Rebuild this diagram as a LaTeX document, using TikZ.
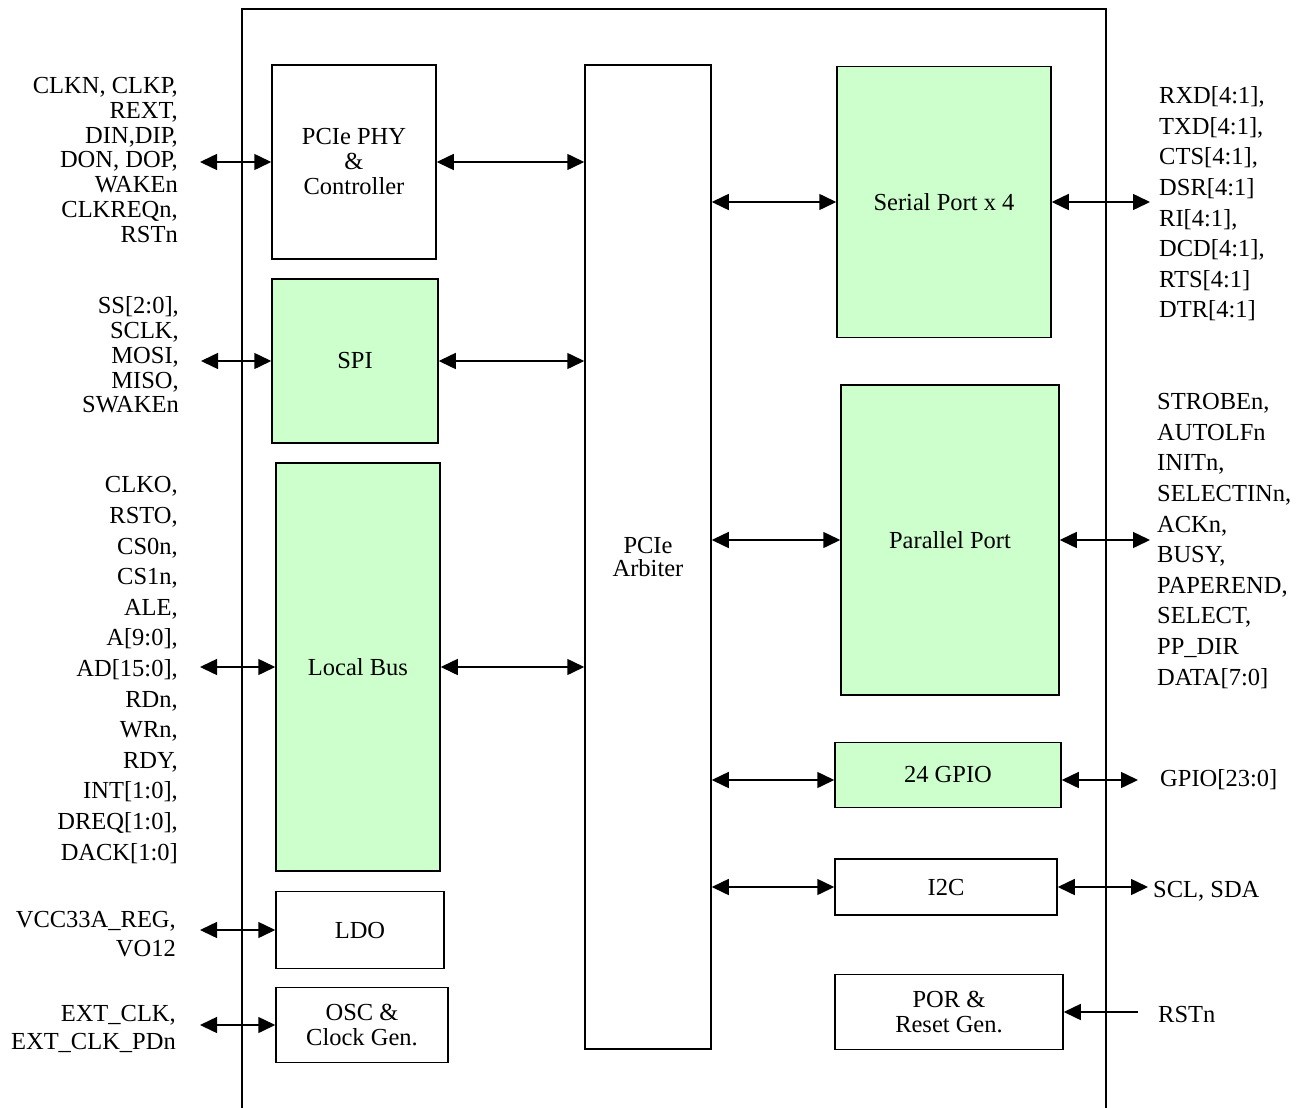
\documentclass[tikz,border=0pt]{standalone}
\usepackage{fontspec}
\setmainfont{Liberation Serif}
\usetikzlibrary{arrows.meta}

\definecolor{blockgreen}{RGB}{204,255,204}

\begin{document}
\begin{tikzpicture}[x=1pt,y=-1pt,
  blk/.style={draw,line width=1.5pt,inner sep=0pt,align=center,font=\fontsize{24.5}{25}\selectfont},
  gblk/.style={blk,fill=blockgreen},
  sig/.style={inner sep=0pt,font=\fontsize{24.5}{24.8}\selectfont},
  sigwide/.style={sig,font=\fontsize{24.5}{30.6}\selectfont},
  bus/.style={line width=1.5pt,{Triangle[length=17pt,width=16pt]}-{Triangle[length=17pt,width=16pt]}},
  inbus/.style={line width=1.5pt,-{Triangle[length=17pt,width=16pt]}}]
  \path[use as bounding box,fill=white] (0,0) rectangle (1301,1108);
  % chip outline, open at the bottom
  \draw[line width=1.5pt] (242,1108) -- (242,9) -- (1106,9) -- (1106,1108);

  % blocks
  \node[blk,minimum width=164,minimum height=194] (phy) at (354,162) {PCIe PHY\\\&\\Controller};
  \node[gblk,minimum width=166,minimum height=164] (spi) at (355,361) {SPI};
  \node[gblk,minimum width=164,minimum height=408] (lbus) at (358,667) {Local Bus};
  \node[blk,minimum width=168,minimum height=77] (ldo) at (360,930) {LDO};
  \node[blk,minimum width=172,minimum height=75] (osc) at (362,1025) {OSC \&\\Clock Gen.};
  \node[blk,minimum width=126,minimum height=984,font=\fontsize{24.5}{23}\selectfont] (arb) at (648,557) {PCIe\\Arbiter};
  \node[gblk,minimum width=214,minimum height=271] (ser) at (944,202) {Serial Port x 4};
  \node[gblk,minimum width=218,minimum height=310] (par) at (950,540) {Parallel Port};
  \node[gblk,minimum width=226,minimum height=65] (gpio) at (948,775) {24 GPIO};
  \node[blk,minimum width=222,minimum height=56] (iic) at (946,887) {I2C};
  \node[blk,minimum width=228,minimum height=75] (por) at (949,1012) {POR \&\\Reset Gen.};

  % pin names
  \node[sig,anchor=east,align=right] (lphy) at (178,160) {CLKN, CLKP,\\REXT,\\DIN,DIP,\\DON, DOP,\\WAKEn\\CLKREQn,\\RSTn};
  \node[sig,anchor=east,align=right] (lspi) at (179,355) {SS[2:0],\\SCLK,\\MOSI,\\MISO,\\SWAKEn};
  \node[sigwide,anchor=east,align=right] (llbus) at (178,670) {CLKO,\\RSTO,\\CS0n,\\CS1n,\\ALE,\\A[9:0],\\AD[15:0],\\RDn,\\WRn,\\RDY,\\INT[1:0],\\DREQ[1:0],\\DACK[1:0]};
  \node[sig,anchor=east,align=right,font=\fontsize{24.5}{29}\selectfont] (lldo) at (176,934) {VCC33A\_REG,\\VO12};
  \node[sig,anchor=east,align=right,font=\fontsize{24.5}{28}\selectfont] (losc) at (176,1029) {EXT\_CLK,\\EXT\_CLK\_PDn};
  \node[sigwide,anchor=west,align=left] (lser) at (1159,204) {RXD[4:1],\\TXD[4:1],\\CTS[4:1],\\DSR[4:1]\\RI[4:1],\\DCD[4:1],\\RTS[4:1]\\DTR[4:1]};
  \node[sigwide,anchor=west,align=left] (lpar) at (1157,541) {STROBEn,\\AUTOLFn\\INITn,\\SELECTINn,\\ACKn,\\BUSY,\\PAPEREND,\\SELECT,\\PP\_DIR\\DATA[7:0]};
  \node[sig,anchor=west] (lgpio) at (1160,780) {GPIO[23:0]};
  \node[sig,anchor=west] (liic) at (1153,891) {SCL, SDA};
  \node[sig,anchor=west] (lrst) at (1158,1014) {RSTn};

  % outside connections
  \draw[bus] ([xshift=22pt]lphy.east |- phy.west) -- (phy.west);
  \draw[bus] ([xshift=22pt]lspi.east |- spi.west) -- (spi.west);
  \draw[bus] ([xshift=22pt]llbus.east |- lbus.west) -- (lbus.west);
  \draw[bus] ([xshift=24pt]lldo.east |- ldo.west) -- (ldo.west);
  \draw[bus] ([xshift=24pt]losc.east |- osc.west) -- (osc.west);
  \draw[bus] (ser.east) -- ([xshift=-9pt]lser.west |- ser.east);
  \draw[bus] (par.east) -- ([xshift=-7pt]lpar.west |- par.east);
  \draw[bus] ([yshift=-5pt]gpio.east) -- ([xshift=-22pt]lgpio.west);
  \draw[bus] (iic.east) -- ([xshift=-5pt]liic.west |- iic.east);
  \draw[inbus] ([xshift=-20pt]lrst.west |- por.east) -- (por.east);

  % to the arbiter
  \draw[bus] (phy.east) -- (phy.east -| arb.west);
  \draw[bus] (spi.east) -- (spi.east -| arb.west);
  \draw[bus] (lbus.east) -- (lbus.east -| arb.west);
  \draw[bus] (arb.east |- ser.west) -- (ser.west);
  \draw[bus] (arb.east |- par.west) -- (par.west);
  \draw[bus] ([yshift=-5pt]arb.east |- gpio.west) -- ([yshift=-5pt]gpio.west);
  \draw[bus] (arb.east |- iic.west) -- (iic.west);
\end{tikzpicture}
\end{document}
